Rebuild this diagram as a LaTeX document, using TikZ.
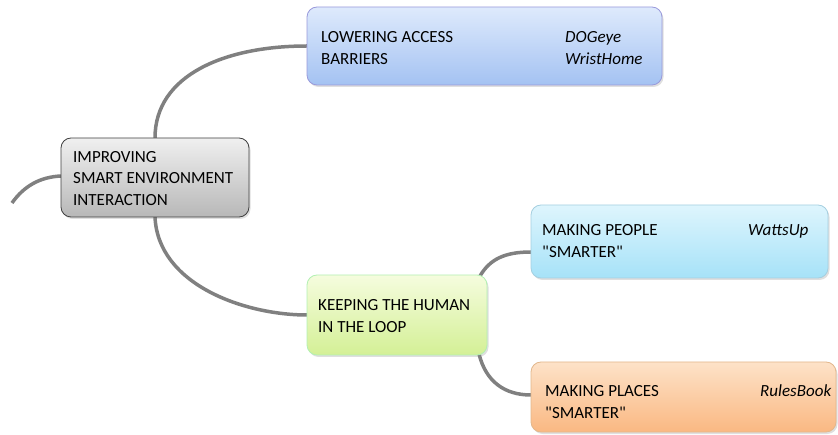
\documentclass[tikz,border=0pt]{standalone}
\usepackage{fontspec}
\setmainfont{Carlito}[Ligatures=TeXOff]
\usetikzlibrary{shadows}
\definecolor{conn}{HTML}{808080}
\tikzset{
  x=1pt, y=-1pt,
  box/.style={draw=#1, line width=0.8pt, rounded corners=10pt,
    drop shadow={shadow xshift=1.5pt, shadow yshift=-2pt, opacity=0.25}},
  conn/.style={draw=conn, line width=3.5pt},
  txt/.style={anchor=base west, inner sep=0pt, font=\fontsize{17}{20}\selectfont},
  itxt/.style={txt, font=\fontsize{17}{20}\selectfont\itshape},
}
\begin{document}
\begin{tikzpicture}
\useasboundingbox (0,0) rectangle (838,435);
% connectors
\coordinate (stub) at (12,203);
\coordinate (impL) at (61,176);
\coordinate (impT) at (155,138);
\coordinate (impB) at (155,217);
\coordinate (lowL) at (307,46);
\coordinate (keeL) at (307,315);
\coordinate (keeT) at (480,276);
\coordinate (keeB) at (479,354);
\coordinate (peoL) at (531,252);
\coordinate (plaL) at (531,395);
\draw[conn] (stub) .. controls (24,186) and (40,177) .. (impL);
\draw[conn] (impT) .. controls (155,75) and (225,46) .. (lowL);
\draw[conn] (impB) .. controls (158,285) and (245,315) .. (keeL);
\draw[conn] (keeT) .. controls (490,259) and (505,252) .. (peoL);
\draw[conn] (keeB) .. controls (486,382) and (505,395) .. (plaL);
% boxes
\path[box={black!75}, top color=white!94!black, bottom color=white!72!black]
  (61,138) rectangle (249,217);
\path[box={black!35!blue!40}, top color={rgb,255:red,222;green,234;blue,252}, bottom color={rgb,255:red,164;green,194;blue,242}]
  (307,7) rectangle (662,85);
\path[box={black!20!green!30}, top color={rgb,255:red,245;green,252;blue,222}, bottom color={rgb,255:red,212;green,240;blue,150}]
  (307,275) rectangle (487,355);
\path[box={black!30!cyan!40}, top color={rgb,255:red,222;green,245;blue,253}, bottom color={rgb,255:red,166;green,226;blue,248}]
  (531,205) rectangle (828,278);
\path[box={black!25!orange!45}, top color={rgb,255:red,253;green,226;blue,200}, bottom color={rgb,255:red,250;green,184;blue,130}]
  (531,362) rectangle (836,432);
% texts
\node[txt] (t1) at (73,163) {IMPROVING};
\node[txt] (t2) at (73,184) {SMART ENVIRONMENT};
\node[txt] (t3) at (73,206) {INTERACTION};
\node[txt] (l1) at (321,43) {LOWERING ACCESS};
\node[txt] (l2) at (321,65) {BARRIERS};
\node[itxt] (l3) at (565,43) {DOGeye};
\node[itxt] (l4) at (565,65) {WristHome};
\node[txt] (k1) at (318,311) {KEEPING THE HUMAN};
\node[txt] (k2) at (318,333) {IN THE LOOP};
\node[txt] (p1) at (542,236) {MAKING PEOPLE};
\node[txt] (p2) at (542,258) {"SMARTER"};
\node[itxt] (p3) at (748,236) {WattsUp};
\node[txt] (q1) at (545,396) {MAKING PLACES};
\node[txt] (q2) at (545,418) {"SMARTER"};
\node[itxt] (q3) at (760,396) {RulesBook};
\end{tikzpicture}
\end{document}
